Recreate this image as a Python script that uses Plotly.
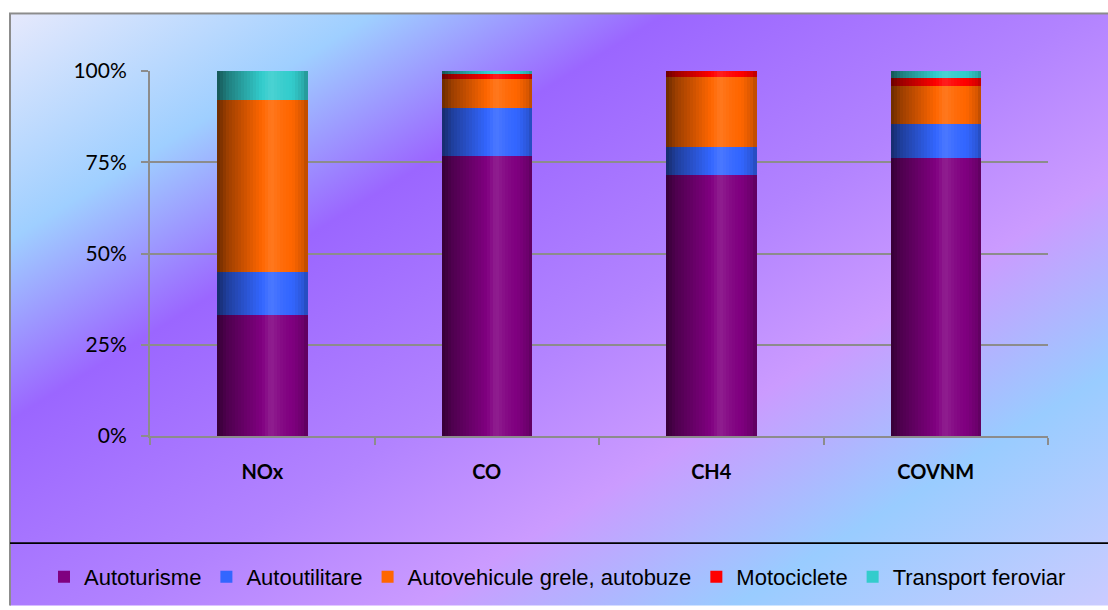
import base64
import numpy as np
import plotly.graph_objects as go

# ---------------- data ----------------
categories = ["NOx", "CO", "CH4", "COVNM"]
series_names = ["Autoturisme", "Autoutilitare", "Autovehicule grele, autobuze",
                "Motociclete", "Transport feroviar"]
autoturisme = [33.2, 76.6, 71.5, 76.1]
autoutilitare = [11.8, 13.4, 7.7, 9.5]
grele_autobuze = [47.1, 7.8, 19.1, 10.4]
motociclete = [0.0, 1.4, 1.7, 2.0]
transport_feroviar = [7.9, 0.8, 0.0, 2.0]
y_tick_values = [0, 25, 50, 75, 100]
y_tick_labels = ["0%", "25%", "50%", "75%", "100%"]

series_values = [autoturisme, autoutilitare, grele_autobuze, motociclete, transport_feroviar]
series_colors = ["#800080", "#3366ff", "#ff6600", "#ff0000", "#33cccc"]

# ---------------- geometry (pixels) ----------------
W, H = 1108, 610
L, R, T, B = 150, 60, 71, 171
PW, PH = W - L - R, H - T - B

# ---------------- background (svg gradient) ----------------
svg = f'''<svg xmlns="http://www.w3.org/2000/svg" width="{W}" height="{H}" viewBox="0 0 {W} {H}" preserveAspectRatio="none">
<rect width="{W}" height="{H}" fill="#ffffff"/>
<defs><linearGradient id="g" gradientUnits="userSpaceOnUse" x1="0" y1="0" x2="585" y2="937">
<stop offset="0" stop-color="#ecebfc"/>
<stop offset="0.19" stop-color="#9fcfff"/>
<stop offset="0.33" stop-color="#9b66ff"/>
<stop offset="0.53" stop-color="#b283ff"/>
<stop offset="0.67" stop-color="#cb9bff"/>
<stop offset="0.82" stop-color="#99ccff"/>
<stop offset="1" stop-color="#cbcbff"/>
</linearGradient></defs>
<rect x="10" y="13" width="1110" height="610" fill="url(#g)" stroke="#8c8c8c" stroke-width="2"/>
<line x1="10" y1="547" x2="{W}" y2="547" stroke="#000000" stroke-width="2"/>
</svg>'''
src = "data:image/svg+xml;base64," + base64.b64encode(svg.encode()).decode()

# ---------------- shading helpers ----------------
def hex_to_rgb(h):
    h = h.lstrip("#")
    return [int(h[i:i + 2], 16) for i in (0, 2, 4)]

def shade(hexcol, f):
    r = hex_to_rgb(hexcol)
    if f <= 1:
        c = [v * f for v in r]
    else:
        c = [v + (255 - v) * (f - 1) for v in r]
    return "rgb(%d,%d,%d)" % tuple(int(round(min(255, max(0, v)))) for v in c)

prof_u = [0.0, 0.12, 0.3, 0.5, 0.6, 0.72, 0.85, 0.95, 1.0]
prof_f = [0.42, 0.62, 0.8, 1.0, 1.12, 1.04, 0.98, 0.85, 0.72]

N = 30
BAR_W = 0.4
sw = BAR_W / N
ucent = (np.arange(N) + 0.5) / N
factors = np.interp(ucent, prof_u, prof_f)
legend_k = int(np.argmin(np.abs(factors[int(N * 0.7):] - 1.0))) + int(N * 0.7)

fig = go.Figure()
bases = np.zeros(len(categories))
for name, vals, col in zip(series_names, series_values, series_colors):
    vals = np.array(vals, dtype=float)
    for k in range(N):
        f = factors[k]
        fig.add_trace(go.Bar(
            x=categories, y=vals, base=bases.copy(),
            width=sw * 1.15, offset=-BAR_W / 2 + k * sw,
            marker=dict(color=shade(col, f) if k != legend_k else col,
                        line=dict(width=0)),
            name=name, legendgroup=name, showlegend=(k == legend_k),
            hoverinfo="skip",
        ))
    bases = bases + vals

axis_grey = "#8c8c8c"
fig.update_layout(
    width=W, height=H, autosize=False,
    margin=dict(l=L, r=R, t=T, b=B, pad=0),
    paper_bgcolor="#ffffff", plot_bgcolor="rgba(0,0,0,0)",
    barmode="overlay", bargap=0,
    images=[dict(source=src, xref="paper", yref="paper",
                 x=-L / PW, y=1 + T / PH, sizex=W / PW, sizey=H / PH,
                 xanchor="left", yanchor="top", sizing="stretch", layer="below")],
    xaxis=dict(type="category", categoryorder="array", categoryarray=categories,
               showline=True, linecolor=axis_grey, linewidth=2,
               ticks="outside", tickson="boundaries", ticklen=7, tickwidth=2,
               tickcolor=axis_grey, showgrid=False,
               tickfont=dict(family="Lato", size=20, color="#000000", weight="bold"),
               ticklabelstandoff=17),
    yaxis=dict(range=[0, 100], tickvals=y_tick_values, ticktext=y_tick_labels,
               showline=True, linecolor=axis_grey, linewidth=2,
               ticks="outside", ticklen=7, tickwidth=2, tickcolor=axis_grey,
               showgrid=True, gridcolor=axis_grey, gridwidth=2, zeroline=False,
               tickfont=dict(family="Lato", size=21, color="#000000"),
               ticklabelstandoff=10),
    legend=dict(orientation="h", x=(44 - L) / PW, xanchor="left",
                y=(H - B - 581) / PH, yanchor="middle",
                font=dict(family="Liberation Sans", size=22, color="#000000"),
                bgcolor="rgba(0,0,0,0)", traceorder="normal"),
    showlegend=True,
)

fig.write_html(
    "out.html",
    config={"displayModeBar": False},
    post_script="document.body.style.margin='0';document.body.style.overflow='hidden';",
)
